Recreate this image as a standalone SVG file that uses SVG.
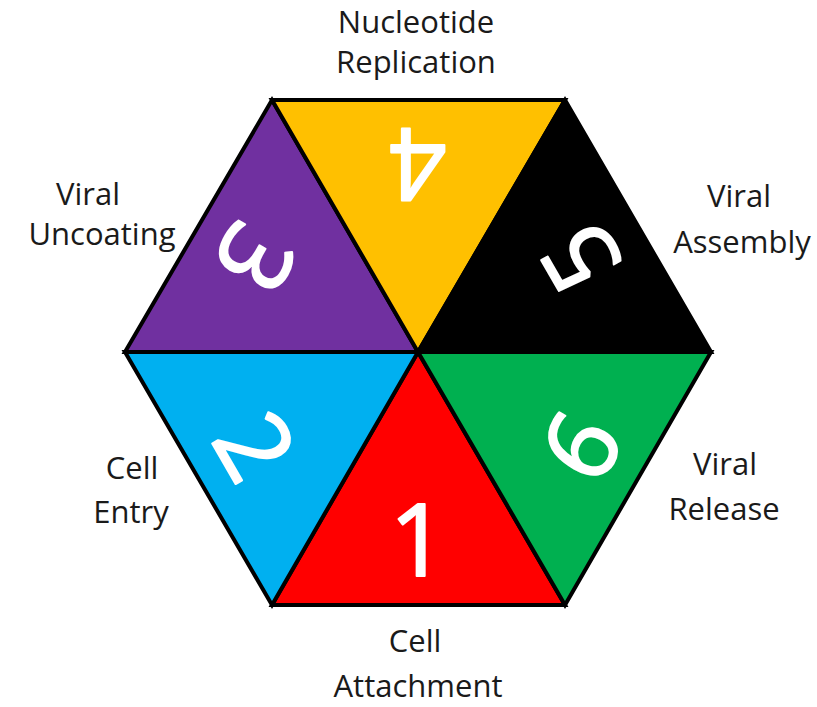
<svg xmlns="http://www.w3.org/2000/svg" width="817" height="707" viewBox="0 0 817 707">
<style>
.tri{stroke:#000;stroke-width:4;stroke-linejoin:miter}
.num{font-family:"Open Sans","Liberation Sans",sans-serif;font-size:100px;fill:#fff;stroke:#fff;stroke-width:2;stroke-linejoin:round;text-anchor:middle}
.lbl{font-family:"Open Sans","Liberation Sans",sans-serif;font-size:31px;fill:#1a1a1a;text-anchor:middle}
</style>
<rect width="817" height="707" fill="#fff"/>
<g id="seg1"><polygon class="tri" fill="#FF0000" points="418,352 272,605 565,605"/><text class="num" x="418" y="576">1</text></g>
<g id="seg2"><polygon class="tri" fill="#00B0F0" points="418,352 125,352 272,605"/><text class="num" x="418" y="576" transform="rotate(60 418 352)">2</text></g>
<g id="seg3"><polygon class="tri" fill="#7030A0" points="418,352 272,100 125,352"/><text class="num" x="418" y="576" transform="rotate(120 418 352)">3</text></g>
<g id="seg4"><polygon class="tri" fill="#FFC000" points="418,352 565,100 272,100"/><text class="num" x="418" y="576" transform="rotate(180 418 352)">4</text></g>
<g id="seg5"><polygon class="tri" fill="#000000" points="418,352 711,352 565,100"/><text class="num" x="418" y="576" transform="rotate(240 418 352)">5</text></g>
<g id="seg6"><polygon class="tri" fill="#00B050" points="418,352 565,605 711,352"/><text class="num" x="418" y="576" transform="rotate(300 418 352)">6</text></g>
<g id="labels">
<text class="lbl" x="416" y="33">Nucleotide</text>
<text class="lbl" x="416" y="73">Replication</text>
<text class="lbl" x="88" y="205">Viral</text>
<text class="lbl" x="102" y="245">Uncoating</text>
<text class="lbl" x="739" y="207">Viral</text>
<text class="lbl" x="742" y="253">Assembly</text>
<text class="lbl" x="132" y="479">Cell</text>
<text class="lbl" x="131" y="523">Entry</text>
<text class="lbl" x="725" y="475">Viral</text>
<text class="lbl" x="724" y="520">Release</text>
<text class="lbl" x="415" y="652">Cell</text>
<text class="lbl" x="418" y="697">Attachment</text>
</g>
</svg>
